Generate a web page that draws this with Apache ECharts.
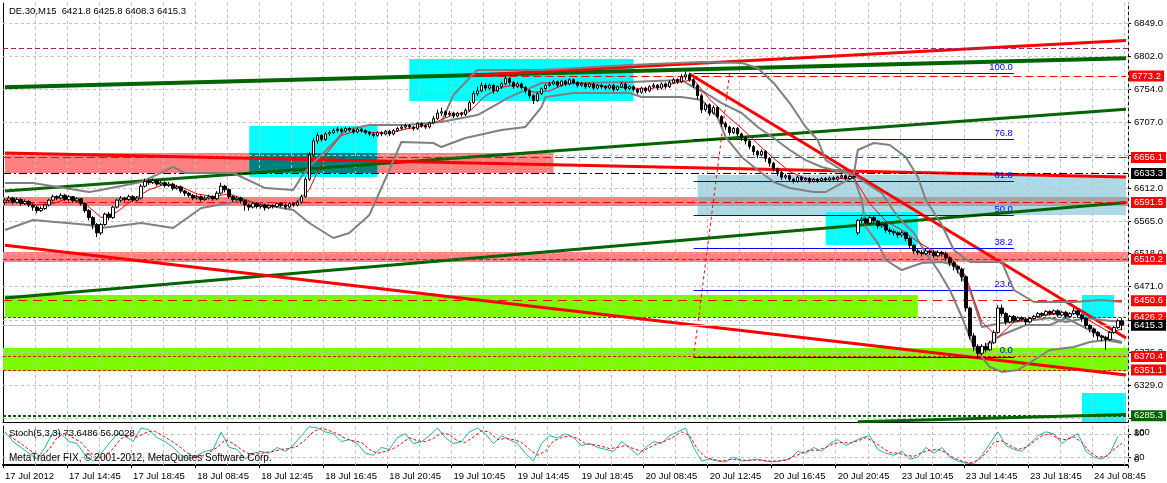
<!DOCTYPE html>
<html><head><meta charset="utf-8">
<script src="https://cdn.jsdelivr.net/npm/echarts@6/dist/echarts.min.js"></script>
<style>html,body{margin:0;padding:0;background:#fff}#c{width:1167px;height:483px}</style>
</head><body><div id="c"></div>
<script>
// ---------------- DATA ----------------
const titleText = 'DE.30,M15  6421.8 6425.8 6408.3 6415.3';
const stochText = 'Stoch(5,3,3) 73.6486 56.0028';
const footerText = 'MetaTrader FIX, \u00A9 2001-2012, MetaQuotes Software Corp.';
const sessions = [['17 Jul','10:45','21:45'],['18 Jul','08:00','21:45'],['19 Jul','08:00','21:45'],['20 Jul','08:00','21:45'],['23 Jul','08:00','21:45'],['24 Jul','08:00','10:45']];
const firstLabel = '17 Jul 2012';
const yTicks = [6849,6802,6754,6707,6660,6612,6565,6518,6471,6423,6376,6329,6282];
const stochLevelTicks = [80,20];
const stochEdgeTicks = [100,0];
const stochLevels = [80,20];
// candles [open, close, low, high]
const candles = [
[6592,6595,6588,6598],[6595,6598,6592,6601],[6598,6592,6589,6600],[6592,6596,6590,6599],[6596,6590,6587,6598],[6590,6593,6588,6596],[6593,6588,6585,6595],[6588,6585,6580,6590],[6585,6580,6576,6587],[6580,6583,6578,6586],
[6583,6588,6581,6590],[6588,6595,6586,6597],[6595,6600,6593,6603],[6600,6598,6595,6602],[6598,6602,6596,6605],[6602,6596,6594,6604],[6596,6600,6593,6602],[6600,6594,6591,6601],[6594,6597,6592,6599],[6597,6590,6587,6598],
[6590,6580,6577,6592],[6580,6570,6566,6582],[6570,6560,6553,6572],[6560,6548,6542,6562],[6548,6560,6545,6562],[6560,6575,6558,6577],[6575,6570,6566,6578],[6570,6585,6568,6587],[6585,6595,6583,6597],[6595,6598,6592,6601],
[6598,6596,6593,6600],[6596,6600,6594,6603],[6600,6595,6592,6602],[6595,6598,6593,6601],[6598,6615,6596,6618],[6615,6622,6613,6626],[6622,6620,6617,6625],[6620,6623,6618,6626],[6623,6618,6615,6625],[6618,6620,6616,6623],
[6620,6616,6613,6622],[6616,6618,6614,6621],[6618,6612,6609,6620],[6612,6614,6610,6617],[6614,6608,6605,6616],[6608,6605,6601,6610],[6605,6602,6599,6607],[6602,6598,6595,6604],[6598,6600,6596,6603],[6600,6596,6593,6602],
[6596,6598,6594,6601],[6598,6600,6596,6603],[6600,6597,6594,6602],[6597,6605,6595,6608],[6605,6615,6603,6620],[6615,6610,6606,6617],[6610,6600,6597,6612],[6600,6596,6592,6602],[6596,6598,6594,6601],[6598,6594,6590,6600],
[6594,6588,6580,6596],[6588,6585,6580,6590],[6585,6590,6583,6592],[6590,6586,6583,6592],[6586,6588,6583,6590],[6588,6584,6580,6590],[6584,6587,6582,6589],[6587,6586,6583,6589],[6586,6590,6584,6592],[6590,6588,6585,6592],
[6588,6585,6582,6590],[6585,6590,6583,6592],[6590,6588,6585,6592],[6588,6592,6586,6595],[6592,6600,6590,6603],[6600,6625,6598,6628],[6625,6660,6623,6664],[6660,6680,6657,6684],[6680,6688,6676,6692],[6688,6682,6679,6690],
[6682,6690,6680,6693],[6690,6692,6687,6695],[6692,6695,6690,6698],[6695,6697,6692,6700],[6697,6694,6691,6699],[6694,6698,6692,6700],[6698,6696,6693,6700],[6696,6693,6690,6698],[6693,6697,6691,6699],[6697,6695,6692,6699],
[6695,6692,6689,6697],[6692,6690,6687,6694],[6690,6688,6685,6692],[6688,6692,6686,6694],[6692,6690,6687,6694],[6690,6694,6688,6696],[6694,6690,6687,6696],[6690,6695,6688,6697],[6695,6698,6693,6700],[6698,6700,6696,6703],
[6700,6702,6697,6705],[6702,6700,6697,6704],[6700,6698,6695,6702],[6698,6705,6696,6707],[6705,6702,6699,6707],[6702,6700,6697,6704],[6700,6706,6698,6708],[6706,6712,6704,6716],[6712,6720,6710,6725],[6720,6722,6716,6728],
[6722,6718,6714,6724],[6718,6720,6715,6723],[6720,6716,6713,6722],[6716,6720,6714,6722],[6720,6718,6715,6722],[6718,6724,6716,6727],[6724,6735,6722,6738],[6735,6748,6733,6752],[6748,6752,6745,6758],[6752,6760,6750,6764],
[6760,6756,6752,6763],[6756,6760,6753,6763],[6760,6752,6748,6762],[6752,6758,6750,6760],[6758,6762,6755,6765],[6762,6770,6760,6773],[6770,6764,6760,6772],[6764,6758,6755,6766],[6758,6762,6756,6765],[6762,6757,6754,6764],
[6757,6752,6748,6759],[6752,6745,6741,6754],[6745,6738,6733,6747],[6738,6748,6736,6750],[6748,6755,6746,6757],[6755,6760,6753,6762],[6760,6762,6758,6765],[6762,6765,6760,6768],[6765,6760,6757,6767],[6760,6766,6758,6768],
[6766,6762,6759,6768],[6762,6768,6760,6770],[6768,6764,6761,6770],[6764,6760,6757,6766],[6760,6762,6758,6765],[6762,6758,6755,6764],[6758,6762,6756,6764],[6762,6756,6753,6764],[6756,6760,6754,6762],[6760,6758,6755,6762],
[6758,6756,6753,6760],[6756,6760,6754,6762],[6760,6754,6751,6762],[6754,6758,6752,6760],[6758,6762,6756,6765],[6762,6755,6752,6764],[6755,6758,6753,6760],[6758,6754,6751,6760],[6754,6750,6747,6756],[6750,6756,6748,6758],
[6756,6752,6749,6758],[6752,6758,6750,6760],[6758,6760,6756,6763],[6760,6756,6753,6762],[6756,6762,6754,6764],[6762,6758,6755,6764],[6758,6764,6756,6767],[6764,6768,6762,6771],[6768,6765,6762,6770],[6765,6772,6763,6776],
[6772,6775,6768,6780],[6775,6768,6765,6778],[6768,6760,6756,6770],[6760,6745,6740,6762],[6745,6725,6720,6748],[6725,6732,6722,6735],[6732,6720,6716,6734],[6720,6728,6718,6731],[6728,6715,6712,6730],[6715,6705,6700,6717],
[6705,6700,6696,6708],[6700,6692,6688,6702],[6692,6698,6690,6700],[6698,6690,6686,6700],[6690,6685,6680,6692],[6685,6680,6675,6687],[6680,6672,6668,6682],[6672,6665,6660,6674],[6665,6660,6655,6667],[6660,6665,6658,6668],
[6665,6655,6650,6667],[6655,6648,6643,6657],[6648,6640,6636,6650],[6640,6635,6630,6642],[6635,6628,6624,6637],[6628,6630,6625,6633],[6630,6625,6621,6632],[6625,6622,6619,6627],[6622,6628,6620,6630],[6628,6624,6621,6630],
[6624,6626,6622,6628],[6626,6622,6619,6628],[6622,6625,6620,6627],[6625,6623,6620,6627],[6623,6626,6621,6628],[6626,6624,6621,6628],[6624,6627,6622,6629],[6627,6625,6622,6629],[6625,6628,6623,6630],[6628,6630,6626,6632],
[6630,6626,6624,6632],[6626,6629,6624,6631],[6629,6628,6626,6630],[6548,6566,6545,6568],[6566,6568,6562,6571],[6568,6562,6559,6570],[6562,6570,6560,6573],[6570,6565,6561,6572],[6565,6558,6554,6567],[6558,6560,6555,6563],
[6560,6552,6548,6562],[6552,6550,6546,6555],[6550,6548,6544,6553],[6548,6545,6541,6550],[6545,6548,6542,6551],[6548,6540,6536,6550],[6540,6530,6526,6542],[6530,6522,6518,6532],[6522,6520,6516,6525],[6520,6518,6514,6523],
[6518,6522,6516,6525],[6522,6520,6516,6524],[6520,6515,6512,6523],[6515,6520,6513,6523],[6520,6518,6514,6522],[6518,6512,6508,6521],[6512,6505,6500,6514],[6505,6500,6494,6507],[6500,6496,6490,6502],[6496,6485,6478,6498],
[6485,6440,6435,6487],[6440,6400,6395,6442],[6400,6385,6378,6404],[6385,6375,6368,6388],[6375,6385,6372,6388],[6385,6380,6376,6390],[6380,6390,6378,6393],[6390,6405,6388,6408],[6405,6440,6403,6444],[6440,6432,6428,6445],
[6432,6420,6416,6434],[6420,6428,6418,6430],[6428,6422,6419,6430],[6422,6426,6420,6428],[6426,6424,6421,6428],[6424,6420,6416,6426],[6420,6425,6418,6427],[6425,6428,6423,6430],[6428,6432,6426,6434],[6432,6430,6427,6434],
[6430,6435,6428,6437],[6435,6432,6429,6437],[6432,6436,6430,6438],[6436,6430,6427,6438],[6430,6434,6428,6436],[6434,6428,6425,6436],[6428,6432,6426,6434],[6432,6436,6430,6440],[6436,6430,6426,6438],[6430,6425,6420,6432],
[6425,6415,6410,6427],[6415,6410,6405,6417],[6410,6405,6398,6412],[6405,6400,6394,6407],[6400,6398,6392,6402],[6398,6395,6380,6400],[6395,6405,6393,6407],[6405,6412,6403,6414],[6412,6421.8,6410,6424],[6421.8,6415.3,6408.3,6425.8]
];
// thin red moving average [barIndex, value]
const maPts = [[0,6594],[4,6594],[8,6588],[12,6590],[16,6598],[20,6590],[24,6570],[28,6578],[32,6596],[36,6610],[40,6618],[44,6614],[48,6604],[52,6600],[56,6604],[60,6596],[64,6588],[68,6587],[72,6588],[76,6610],[80,6660],[84,6688],[88,6695],[92,6692],[96,6691],[100,6697],[104,6701],[108,6708],[112,6718],[116,6722],[120,6745],[124,6757],[128,6761],[132,6750],[136,6752],[140,6762],[144,6763],[148,6760],[152,6757],[156,6757],[160,6754],[164,6758],[168,6764],[172,6768],[176,6740],[180,6718],[184,6698],[188,6676],[192,6655],[196,6636],[200,6626],[204,6624],[208,6626],[212,6627],[216,6590],[220,6565],[224,6552],[228,6535],[232,6522],[236,6514],[240,6485],[244,6420],[248,6398],[252,6420],[256,6425],[260,6430],[264,6432],[268,6432],[272,6418],[276,6405],[279,6410]];
// gray Bollinger envelope curves [barIndex, value]
const bandA = [[0,6619.6],[7,6619.6],[21,6606.7],[24,6609.6],[34,6621.0],[42,6642.6],[45,6634.0],[57,6634.0],[65,6612.4],[72,6609.6],[74,6628.2],[76,6642.6],[82,6677.1],[85,6695.7],[91,6702.9],[100,6702.9],[109,6707.2],[118,6717.3],[126,6743.1],[134,6763.3],[142,6763.3],[156,6764.7],[169,6767.6],[171,6760.4],[175,6748.9],[179,6734.5],[184,6720.2],[188,6700.1],[192,6684.2],[196,6667.0],[200,6652.6],[204,6642.6],[209,6635.4],[212,6631.1],[219,6605.2],[223,6570.8],[227,6547.8],[230,6518.9],[233,6494.6],[236,6465.9],[239,6427.1],[242,6384.0],[246,6355.3],[249,6348.2],[253,6351.0],[257,6365.4],[261,6379.7],[267,6384.0],[271,6391.2],[275,6394.1],[279,6389.8]];
const bandB = [[0,6552.1],[7,6566.5],[21,6559.3],[24,6555.0],[34,6562.2],[42,6555.0],[49,6583.7],[56,6590.9],[59,6595.2],[65,6588.0],[72,6580.8],[76,6562.2],[82,6540.6],[86,6547.8],[91,6573.6],[96,6638.3],[99,6678.5],[107,6677.1],[109,6671.3],[115,6684.2],[124,6695.7],[130,6700.1],[134,6728.8],[135,6743.1],[142,6748.9],[156,6748.9],[159,6743.1],[169,6743.1],[174,6738.8],[178,6714.4],[180,6685.7],[184,6657.0],[188,6638.3],[192,6621.0],[196,6612.4],[202,6606.7],[205,6606.7],[209,6619.6],[212,6628.2],[214,6595.2],[215,6556.4],[218,6533.4],[220,6509.0],[224,6494.6],[229,6504.7],[234,6506.1],[237,6501.8],[241,6465.9],[244,6412.8],[249,6418.5],[257,6422.8],[261,6425.7],[265,6420.0],[270,6425.7],[274,6422.8],[279,6420.0]];
const bandC = [[109,6707.2],[112,6746.0],[116,6770.4],[118,6782.0],[134,6782.0],[156,6789.1],[174,6793.4],[184,6792.0],[188,6784.8],[192,6763.3],[196,6734.5],[200,6700.1],[203,6681.4],[205,6652.6],[209,6638.3],[212,6631.1],[213,6667.0],[217,6677.1],[221,6674.2],[225,6657.0],[228,6628.2],[230,6595.2],[234,6559.3],[237,6523.4],[241,6506.1],[245,6506.1],[249,6506.1],[252,6465.9],[257,6448.7],[267,6448.7],[274,6451.6],[279,6448.7]];
const bandD = [[245,6386.9],[249,6401.3],[255,6415.6],[261,6415.6],[265,6425.7],[270,6411.3],[274,6398.4],[279,6391.2]];
// stochastic main (every 2 bars from bar 0) and signal (every 2 bars from bar 1)
const stochK = [85,60,45,30,15,45,85,80,60,55,25,10,30,55,80,75,60,95,90,70,60,45,25,15,25,35,40,85,45,40,15,30,35,30,45,35,50,75,98,95,85,80,60,65,55,30,25,45,40,70,80,55,60,75,95,70,55,60,85,95,80,55,75,65,55,30,10,55,75,70,80,70,50,55,45,40,35,60,45,25,45,60,55,75,85,95,45,10,15,10,8,20,10,12,15,10,8,12,15,35,30,45,35,55,65,50,60,70,75,40,30,25,35,15,20,45,30,45,20,10,5,3,25,55,85,50,40,35,55,75,85,80,55,70,80,35,20,15,30,74];
const stochD = [75,62,47,32,22,40,70,82,70,58,35,18,22,42,68,75,72,82,88,78,65,52,35,22,22,32,45,65,55,40,28,28,32,35,40,42,48,65,85,95,88,80,68,62,58,40,30,35,42,55,70,62,60,68,82,78,62,58,72,88,85,65,68,65,58,40,25,35,62,70,75,68,55,52,48,42,45,50,42,35,45,55,62,72,85,75,40,20,14,10,14,14,12,13,12,10,10,12,22,30,38,38,45,55,58,56,62,70,60,45,32,30,25,22,32,38,40,32,18,10,5,12,30,58,62,50,40,45,60,75,80,68,65,72,58,32,20,22,40,56];
// horizontal levels
const purpleLevel = 6813.5;
const redDashLevels = [6656.1, 6591.5];
const redShortDashLevels = [6510.2];
const redLongDashLevels = [6450.6];
const redDotLevels = [6426.2, 6370.4, 6351.1];
const blackLevel = 6633.3;
const bidLevel = 6415.3;
const greenLevel = 6285.3;
const highLine = {from: 120, to: 280, value: 6773.2};
// fibonacci
const fibFrom = 172, fibTo = 252;
const fibValues = [6370, 6466, 6525.5, 6573.5, 6621.5, 6682.6, 6777];
const fibLabels = ['0.0','23.6','38.2','50.0','61.8','76.8','100.0'];
const fibAnchor = [[172,6370],[180.5,6777]];
// trend lines [[bar, value],[bar, value]]
const greenTrends = [[[0,6757],[280,6799]],[[0,6608.1],[280,6725.5]],[[0,6454.4],[280,6591.6]],[[213,6276.5],[280,6287]]];
const redTrends = [[[116,6774],[280,6824.3]],[[171,6776.2],[280,6396.9]],[[0,6530.3],[280,6343.8]],[[0,6662.7],[280,6628.2]]];
// rectangles [[barFrom, top],[barTo, bottom]]; null bar = full width
const cyanRects = [[[61,6701.5],[93,6628.2]],[[101,6797.7],[157,6737.4]],[[205,6577.9],[228,6530.5]],[[269,6458.7],[277,6425.7]],[[269,6318],[280,6276.3]]];
const blueRects = [[[173,6631.1],[280,6573.6]]];
const pinkRects = [[[0,6662.7],[137,6634.0]],[[null,6599.5],[null,6586.6]],[[null,6520.5],[null,6506.2]]];
const greenRects = [[[0,6458.7],[228,6427.1]],[[null,6382.6],[null,6349.6]]];
const tealOverlap = [[[61,6662.7],[93,6634.0]]];
const grayOverlap = [[[173,6599.5],[280,6586.6]]];

// ---------------- BUILD ----------------
const cats = [];
sessions.forEach(([d, s, e]) => {
  let [h, m] = s.split(':').map(Number); const [eh, em] = e.split(':').map(Number);
  while (h * 60 + m <= eh * 60 + em) { cats.push(d + ' ' + String(h).padStart(2,'0') + ':' + String(m).padStart(2,'0')); m += 15; if (m >= 60) { m -= 60; h++; } }
});
const FONT = 'Liberation Sans';
const fs = 9.5;
const noSym = ['none','none'];
function area(list, color) {
  return list.map(([a, b]) => {
    const p1 = {yAxis: a[1], itemStyle: {color, opacity: 1, borderWidth: 0}};
    const p2 = {yAxis: b[1]};
    if (a[0] !== null) { p1.xAxis = a[0]; p2.xAxis = b[0]; }
    return [p1, p2];
  });
}
function tag(bg, text) {
  return {show: true, position: 'end', distance: 3, formatter: text, backgroundColor: bg, color: '#fff', padding: [1, 3, 0, 3], fontSize: fs, fontFamily: FONT, lineHeight: 10};
}
function hl(v, color, type, width, bg) {
  return {yAxis: v, lineStyle: {color, type, width}, label: bg ? tag(bg, v.toFixed(1)) : {show: false}};
}
const levelLines = [
  hl(purpleLevel, '#A0206A', [5,3], 1),
  ...redDashLevels.map(v => hl(v, '#FF0000', [8,4], 1, '#FF0000')),
  ...redShortDashLevels.map(v => hl(v, '#FF0000', [4,3], 1, '#FF0000')),
  ...redLongDashLevels.map(v => hl(v, '#FF0000', [9,6], 1, '#FF0000')),
  ...redDotLevels.map(v => hl(v, '#FF0000', [3,2], 1, '#FF0000')),
  hl(blackLevel, '#000000', [8,3,2,3], 1, '#000000'),
  hl(bidLevel, '#C0C0C0', 'solid', 1, '#000000'),
  hl(greenLevel, '#006400', [3,2], 2, '#006400'),
  [{coord: [highLine.from, highLine.value], lineStyle: {color: '#FF0000', type: [8,4], width: 1}, label: tag('#FF0000', highLine.value.toFixed(1))}, {coord: [highLine.to, highLine.value]}]
];
const trendLines = [
  ...greenTrends.map(([a, b], i) => [{coord: a, lineStyle: {color: '#006400', width: i === 0 ? 4 : 3, type: 'solid'}}, {coord: b}]),
  ...redTrends.map(([a, b]) => [{coord: a, lineStyle: {color: '#FF0000', width: 3, type: 'solid'}}, {coord: b}]),
  [{coord: fibAnchor[0], lineStyle: {color: '#FF0000', width: 1, type: [3,3]}}, {coord: fibAnchor[1]}],
  ...fibValues.map((v, i) => [{coord: [fibFrom, v], lineStyle: {color: '#0000FF', width: 1, type: 'solid'},
     label: {show: true, position: 'insideEndTop', formatter: fibLabels[i], color: '#0000FF', fontSize: fs, fontFamily: FONT, distance: 1}}, {coord: [fibTo, v]}])
];
const base = {type: 'line', data: [], xAxisIndex: 0, yAxisIndex: 0, silent: true, animation: false, clip: false};
const grayLine = (name, d) => ({type: 'line', name, data: d, z: 5, symbol: 'none', lineStyle: {color: '#808080', width: 2}, silent: true, animation: false});
const series = [
  Object.assign({}, base, {name: 'rects', z: 1, markArea: {silent: true, data: [
    ...area(pinkRects, '#FF8080'), ...area(greenRects, '#7CFC00'), ...area(blueRects, '#ADD8E6'), ...area(cyanRects, '#00FFFF')]}}),
  Object.assign({}, base, {name: 'overlap', z: 2, markArea: {silent: true, data: [...area(tealOverlap, '#008080'), ...area(grayOverlap, '#A9A29E')]}}),
  Object.assign({}, base, {name: 'hgrid', z: 3, markLine: {silent: true, symbol: noSym, animation: false, label: {show: false},
    data: yTicks.map(v => ({yAxis: v, lineStyle: {color: '#C0C0C0', type: [3,3], width: 1}}))}}),
  Object.assign({}, base, {name: 'trend', z: 4, markLine: {silent: true, symbol: noSym, animation: false, label: {show: false}, data: trendLines}}),
  grayLine('bbA', bandA), grayLine('bbB', bandB), grayLine('bbC', bandC), grayLine('bbD', bandD),
  {type: 'line', name: 'ma', data: maPts, z: 6, symbol: 'none', lineStyle: {color: '#FF0000', width: 1}, silent: true, animation: false},
  {type: 'candlestick', name: 'DE.30', data: candles, z: 7, barWidth: 3, silent: true, animation: false,
    itemStyle: {color: '#FFFFFF', color0: '#000000', borderColor: '#000000', borderColor0: '#000000', borderWidth: 1}},
  Object.assign({}, base, {name: 'levels', z: 8, markLine: {silent: true, symbol: noSym, animation: false, label: {show: false}, data: levelLines}}),
  {type: 'line', name: 'K', xAxisIndex: 1, yAxisIndex: 2, data: stochK.map((v, i) => [2 * i, v]), symbol: 'none', z: 5,
    lineStyle: {color: '#20B2AA', width: 1}, silent: true, animation: false,
    markLine: {silent: true, symbol: noSym, animation: false, label: {show: false},
      data: stochLevels.map(v => ({yAxis: v, lineStyle: {color: '#C0C0C0', type: [3,3], width: 1}}))}},
  {type: 'line', name: 'D', xAxisIndex: 1, yAxisIndex: 2, data: stochD.map((v, i) => [2 * i + 1, v]), symbol: 'none', z: 6,
    lineStyle: {color: '#FF0000', width: 1, type: [3,2]}, silent: true, animation: false}
];
const splitL = {show: true, interval: (i) => i % 8 === 0 && i > 0, lineStyle: {color: '#C0C0C0', type: [3,3], width: 1}};
const option = {
  animation: false,
  backgroundColor: '#FFFFFF',
  textStyle: {fontFamily: FONT},
  title: [
    {text: titleText, left: 4, top: 1, textStyle: {fontSize: fs, fontWeight: 'normal', color: '#000', fontFamily: FONT}},
    {text: stochText, left: 4, top: 423, textStyle: {fontSize: fs, fontWeight: 'normal', color: '#000', fontFamily: FONT}},
    {text: footerText, left: 4, top: 448, textStyle: {fontSize: 10, fontWeight: 'normal', color: '#000', fontFamily: FONT}}
  ],
  grid: [
    {left: 3, top: 3, width: 1125, height: 419},
    {left: 3, top: 426, width: 1125, height: 39}
  ],
  xAxis: [
    {type: 'category', gridIndex: 0, data: cats.slice(0, 281), boundaryGap: true, z: 3,
      axisLine: {show: true, lineStyle: {color: '#000', width: 1}}, axisTick: {show: false}, axisLabel: {show: false}, splitLine: splitL},
    {type: 'category', gridIndex: 1, data: cats.slice(0, 281), boundaryGap: true, z: 3,
      axisLine: {show: true, lineStyle: {color: '#000', width: 1}},
      axisTick: {show: true, interval: 15, length: 3, lineStyle: {color: '#000'}},
      axisLabel: {interval: 15, align: 'left', margin: 6, fontSize: fs, color: '#000', fontFamily: FONT,
        formatter: (v, i) => i === 0 ? firstLabel : v},
      splitLine: splitL},
    {type: 'category', gridIndex: 1, data: cats.slice(0, 281), position: 'top', axisLine: {show: true, lineStyle: {color: '#000', width: 2}}, axisTick: {show: false}, axisLabel: {show: false}, splitLine: {show: false}}
  ],
  yAxis: [
    {type: 'value', gridIndex: 0, position: 'right', min: 6276.3, max: 6878.2,
      axisLine: {show: true, lineStyle: {color: '#000'}},
      axisTick: {show: true, length: 3, customValues: yTicks, lineStyle: {color: '#000'}},
      axisLabel: {customValues: yTicks, formatter: v => Number(v).toFixed(1), fontSize: fs, color: '#000', margin: 6, fontFamily: FONT},
      splitLine: {show: false}},
    {type: 'value', gridIndex: 0, position: 'left', min: 6276.3, max: 6878.2,
      axisLine: {show: true, lineStyle: {color: '#000'}}, axisTick: {show: false}, axisLabel: {show: false}, splitLine: {show: false}},
    {type: 'value', gridIndex: 1, position: 'right', min: 0, max: 100,
      axisLine: {show: true, lineStyle: {color: '#000'}},
      axisTick: {show: true, length: 3, customValues: stochLevelTicks, lineStyle: {color: '#000'}},
      axisLabel: {customValues: stochLevelTicks, fontSize: fs, color: '#000', margin: 6, fontFamily: FONT},
      splitLine: {show: false}},
    {type: 'value', gridIndex: 1, position: 'left', min: 0, max: 100,
      axisLine: {show: true, lineStyle: {color: '#000'}}, axisTick: {show: false}, axisLabel: {show: false}, splitLine: {show: false}},
    {type: 'value', gridIndex: 1, position: 'right', min: 0, max: 100,
      axisLine: {show: false}, axisTick: {show: false}, splitLine: {show: false},
      axisLabel: {customValues: stochEdgeTicks, showMinLabel: true, showMaxLabel: true, margin: 6,
        formatter: v => (Number(v) === 100 ? '{t|100}' : '{b|0}'),
        rich: {t: {padding: [13, 0, 0, 0], fontSize: fs, color: '#000', fontFamily: FONT}, b: {padding: [0, 0, 11, 0], fontSize: fs, color: '#000', fontFamily: FONT}}}}
  ],
  series
};
const chart = echarts.init(document.getElementById('c'));
chart.setOption(option);
</script></body></html>
